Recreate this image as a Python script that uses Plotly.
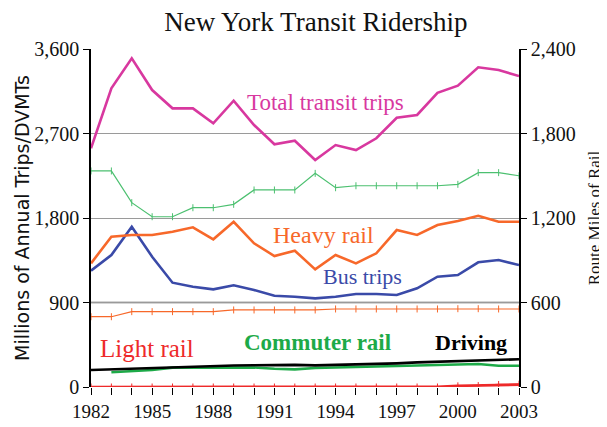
import plotly.graph_objects as go

years = list(range(1982, 2004))

total_transit = [2542, 3181, 3500, 3163, 2968, 2968, 2808, 3049, 2790, 2585, 2623,
                 2418, 2577, 2524, 2649, 2868, 2897, 3134, 3209, 3405, 3376, 3312]
heavy_rail = [1317, 1601, 1619, 1619, 1654, 1701, 1573, 1760, 1530, 1395, 1452,
              1253, 1406, 1317, 1424, 1672, 1619, 1725, 1768, 1824, 1760, 1760]
bus_trips = [1239, 1406, 1707, 1388, 1111, 1068, 1040, 1083, 1033, 972, 962,
             944, 962, 990, 990, 980, 1051, 1175, 1193, 1328, 1353, 1299]
commuter_rail = [None, 157, 165, 181, 206, 207, 208, 208, 208, 195, 188,
                 202, 208, 216, 220, 224, 232, 240, 245, 245, 227, 227]
driving = [181, 188, 193, 199, 208, 216, 227, 229, 231, 234, 236,
           230, 234, 240, 246, 252, 262, 270, 277, 284, 290, 295]
light_rail = [0, 0, 0, 0, 0, 0, 0, 0, 0, 0, 0,
              0, 0, 0, 0, 0, 0, 3, 12, 14, 22, 25]

# Route miles of rail (right axis)
commuter_miles = [1534, 1534, 1309, 1209, 1209, 1273, 1273, 1297, 1399, 1399, 1399,
                  1517, 1415, 1429, 1429, 1429, 1429, 1429, 1439, 1522, 1522, 1500]
heavy_miles = [499, 499, 535, 535, 535, 535, 535, 547, 547, 547, 547,
               547, 554, 554, 554, 554, 554, 554, 556, 556, 554, 554]
light_miles = [0, 0, 0, 0, 0, 0, 0, 0, 0, 0, 0,
               0, 0, 0, 0, 0, 0, 0, 8, 10, 18, 20]

left_ticks = [0, 900, 1800, 2700, 3600]
right_ticks = [0, 600, 1200, 1800, 2400]
x_label_ticks = [1982, 1985, 1988, 1991, 1994, 1997, 2000, 2003]

C_TOTAL = "#d8389f"
C_HEAVY = "#f7682a"
C_BUS = "#3a4aa8"
C_COMM = "#1daa48"
C_COMM_THIN = "#4cc070"
C_DRIVE = "#000000"
C_LIGHT = "#ee2a2a"

SERIF = "Liberation Serif"

fig = go.Figure()

def thin(y, color):
    fig.add_trace(go.Scatter(x=years, y=y, yaxis="y2", mode="lines+markers",
                             line=dict(color=color, width=1.2),
                             marker=dict(symbol="line-ns", size=5,
                                         line=dict(color=color, width=1)),
                             showlegend=False, hoverinfo="skip"))

def thick(y, color, w=2.6):
    fig.add_trace(go.Scatter(x=years, y=y, mode="lines",
                             line=dict(color=color, width=w),
                             showlegend=False, connectgaps=False))

thin(commuter_miles, C_COMM_THIN)
thin(heavy_miles, C_HEAVY)
thick(commuter_rail, C_COMM)
thick(driving, C_DRIVE)
thick(bus_trips, C_BUS)
thick(heavy_rail, C_HEAVY)
thick(total_transit, C_TOTAL)
thin(light_miles, C_LIGHT)
thick(light_rail, C_LIGHT)

fig.add_shape(type="line", xref="paper", x0=0, x1=1, yref="y", y0=900, y1=900,
              line=dict(color="#555555", width=1.5), layer="below")

anns = [
    ("Total transit trips", 1993.5, 3035, C_TOTAL, 23, False),
    ("Heavy rail", 1993.4, 1619, C_HEAVY, 24, False),
    ("Bus trips", 1995.3, 1172, C_BUS, 22, False),
    ("Light rail", 1984.75, 405, C_LIGHT, 25, False),
    ("Commuter rail", 1993.1, 469, C_COMM, 23, True),
    ("Driving", 2000.65, 469, C_DRIVE, 22, True),
]
for text, x, y, col, size, bold in anns:
    fig.add_annotation(x=x, y=y, xref="x", yref="y",
                       text=f"<b>{text}</b>" if bold else text,
                       showarrow=False, font=dict(family=SERIF, size=size, color=col))

# The page body adds an 8px offset; size the figure so it fills the window exactly.
fig.update_layout(
    width=599, height=419,
    margin=dict(l=83, r=88, t=41, b=40),
    paper_bgcolor="white", plot_bgcolor="white",
    title=dict(text="New York Transit Ridership", x=0.514, xanchor="center",
               y=1 - 14 / 419, yanchor="middle",
               font=dict(family=SERIF, size=27, color="#111111")),
    xaxis=dict(range=[1982, 2003], tickvals=x_label_ticks, ticktext=[str(v) for v in x_label_ticks],
               ticks="outside", ticklen=7, tickcolor="black", tickwidth=1.3,
               minor=dict(dtick=1, tick0=1982, ticks="outside", ticklen=7, tickcolor="black", tickwidth=1.3),
               showgrid=False, showline=False, zeroline=False, automargin=False,
               tickfont=dict(family=SERIF, size=19, color="#111111")),
    yaxis=dict(range=[0, 3600], tickvals=left_ticks, tickformat=",d",
               ticks="outside", ticklen=6, tickcolor="black", automargin=False,
               showline=True, linecolor="black", linewidth=1.5,
               showgrid=True, gridcolor="#9a9a9a", gridwidth=1.2, zeroline=False,
               tickfont=dict(family=SERIF, size=20, color="#111111"),
               title=dict(text="Millions of Annual Trips/DVMTs", standoff=0,
                          font=dict(family="DejaVu Sans", size=19, color="#111111"))),
    yaxis2=dict(range=[0, 2400], tickvals=right_ticks, tickformat=",d",
                overlaying="y", side="right", automargin=False,
                ticks="outside", ticklen=6, tickcolor="black",
                showline=True, linecolor="black", linewidth=1.5,
                showgrid=False, zeroline=False,
                tickfont=dict(family=SERIF, size=20, color="#111111"),
                title=dict(text="Route Miles of Rail", standoff=13,
                           font=dict(family=SERIF, size=17, color="#111111"))),
)

fig.write_html("out.html")
